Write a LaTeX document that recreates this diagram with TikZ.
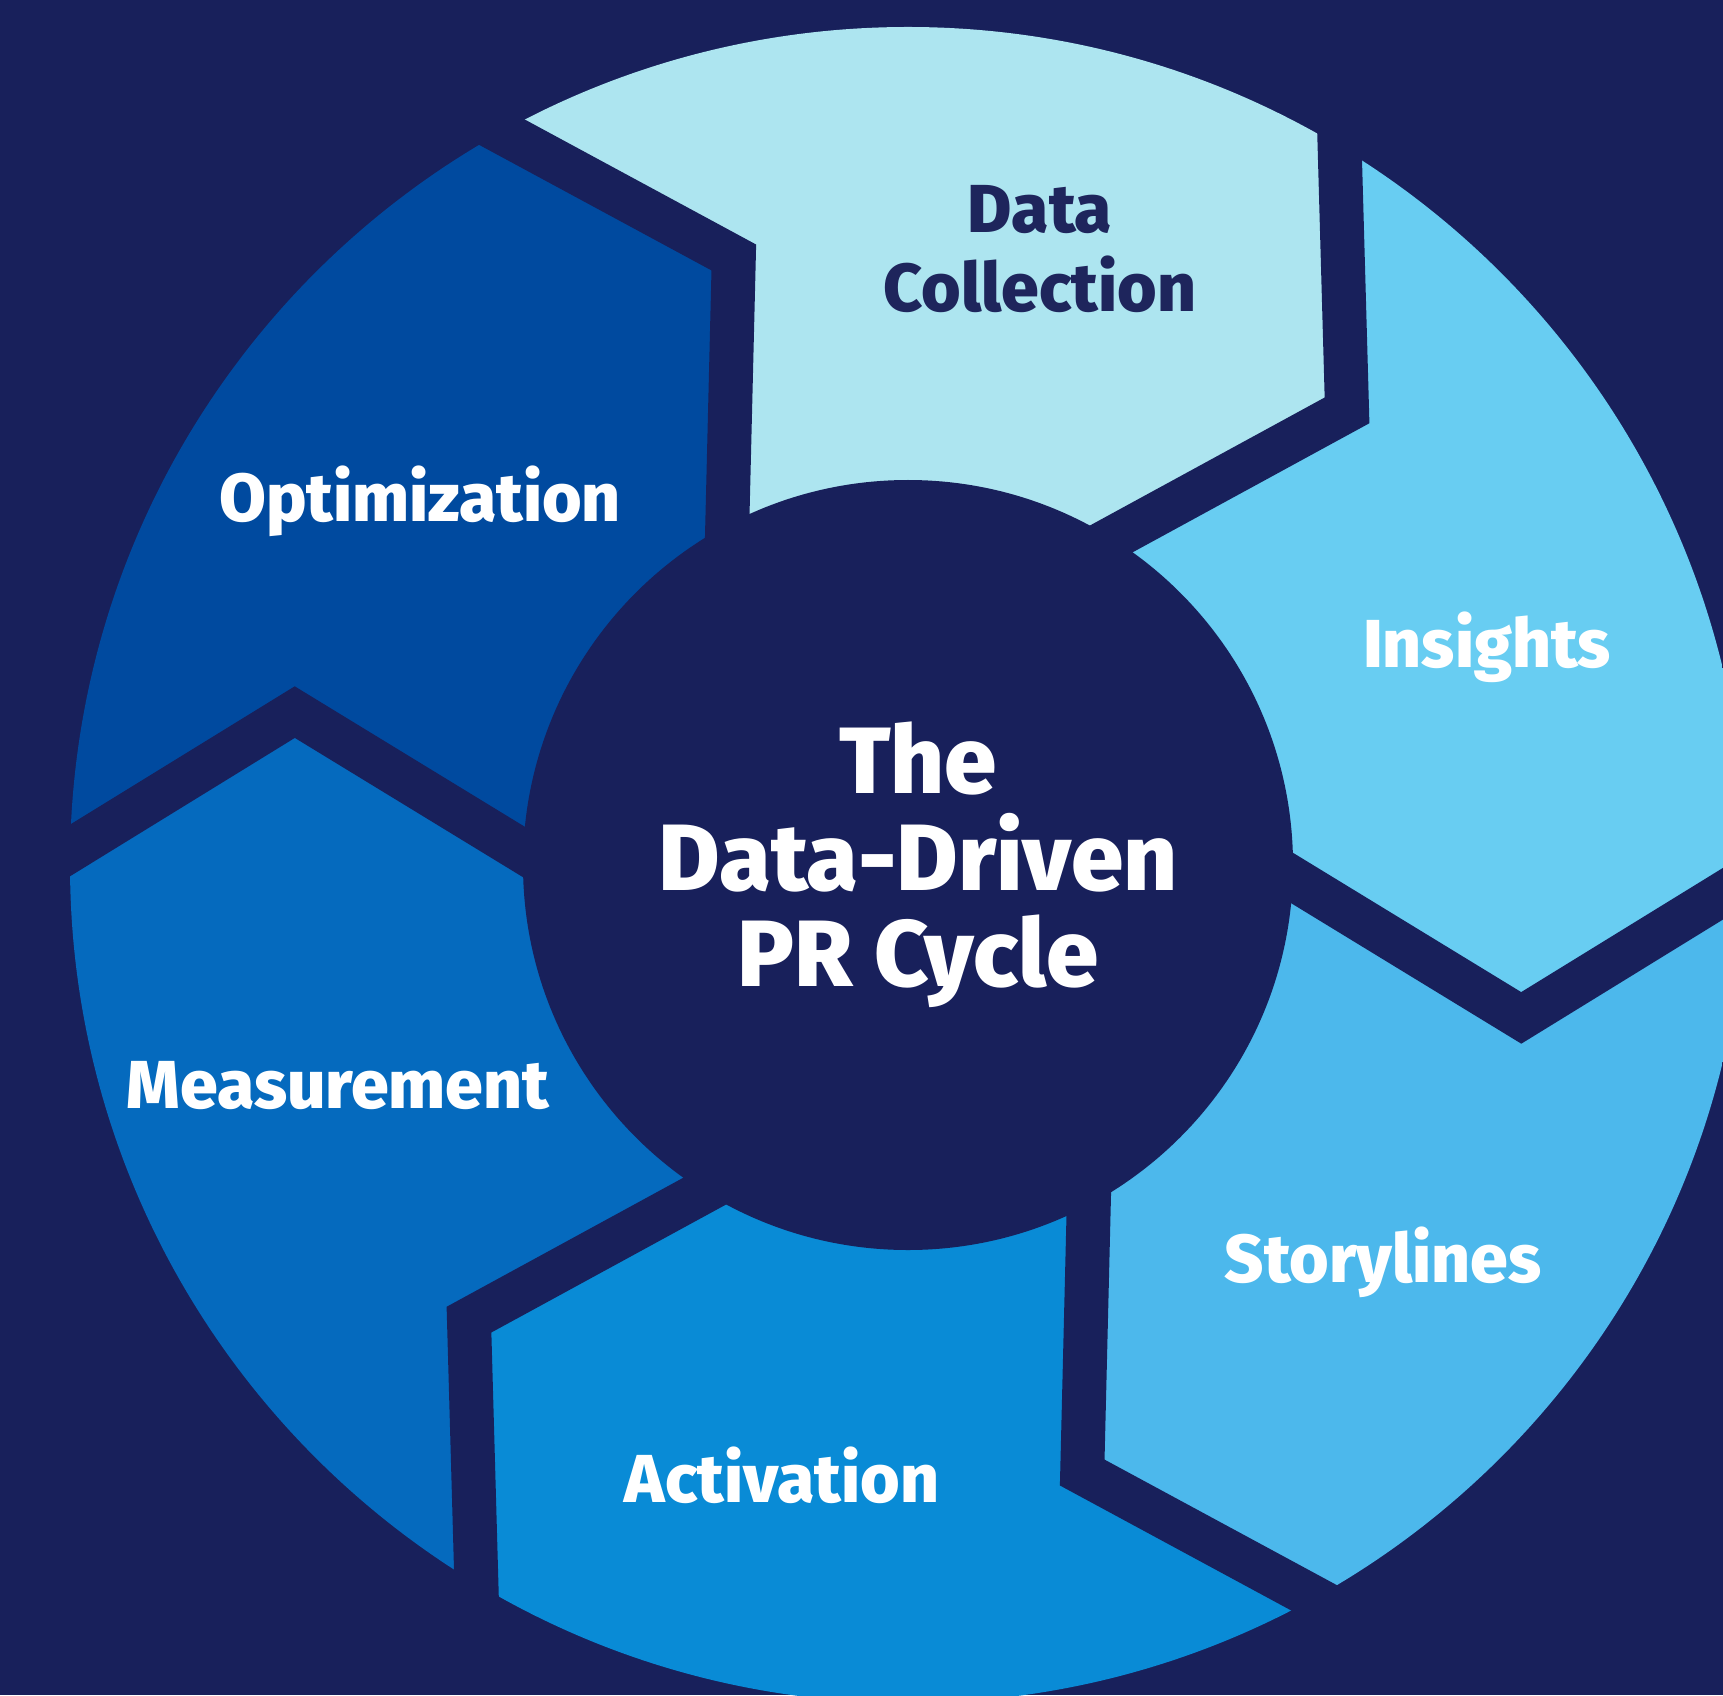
\documentclass[tikz,border=0pt]{standalone}
\usepackage{fontspec}
\setmainfont{Fira Sans}[BoldFont={Fira Sans ExtraBold}]
\usetikzlibrary{calc}
\definecolor{navy}{RGB}{24,32,91}
\definecolor{segOpt}{RGB}{0,74,159}
\definecolor{segData}{RGB}{173,229,240}
\definecolor{segIns}{RGB}{104,205,242}
\definecolor{segStory}{RGB}{76,184,236}
\definecolor{segAct}{RGB}{9,139,214}
\definecolor{segMeas}{RGB}{5,106,190}
\definecolor{darktext}{RGB}{30,37,92}
\begin{document}
\begin{tikzpicture}[x=0.1mm,y=0.1mm,
  steplabel/.style={font=\fontsize{19.3}{24}\selectfont\bfseries, text=white, anchor=base, inner sep=0},
  titletext/.style={font=\fontsize{26.8}{30}\selectfont\bfseries, text=white, anchor=base, inner sep=0},
  gapline/.style={draw=navy, line width=4.4mm, line join=miter}]
\useasboundingbox (0,0) rectangle (1723,1695);
\clip (0,0) rectangle (1723,1695);
\fill[navy] (0,0) rectangle (1723,1695);

\begin{scope}[shift={(908,830)}]
  % chevron boundaries between the six steps: outer end, tip, inner end
  \foreach \k in {0,...,5} {
    \pgfmathsetmacro\a{179-60*\k}
    \coordinate (v\k) at (\a-13:632);
    \coordinate (o\k) at (\a:838);
    \coordinate (i\k) at (\a-1:385);
    \coordinate (oo\k) at ($(v\k)!1.4!(o\k)$);
    \coordinate (ii\k) at ($(v\k)!1.5!(i\k)$);
  }
  % ring segments
  \begin{scope}
    \clip (0,0) circle[radius=838];
    \foreach \k/\c in {0/segOpt,1/segData,2/segIns,3/segStory,4/segAct,5/segMeas} {
      \pgfmathtruncatemacro\n{mod(\k+1,6)}
      \pgfmathsetmacro\m{149-60*\k}
      \fill[\c] (oo\k) -- (v\k) -- (ii\k) -- (0,0) -- (ii\n) -- (v\n) -- (oo\n) -- (\m:1300) -- cycle;
    }
  \end{scope}
  % gaps between segments
  \foreach \k in {0,...,5} {
    \draw[gapline] (oo\k) -- (v\k) -- (ii\k);
  }
  % central disc
  \fill[navy] (0,0) circle[radius=385];
\end{scope}

% step labels
\node[steplabel, text=darktext] (dc1) at (1040,1462) {Data};
\node[steplabel, text=darktext] (dc2) at (1040,1383) {Collection};
\node[steplabel] (ins) at (1487,1028) {Insights};
\node[steplabel] (sto) at (1383,413) {Storylines};
\node[steplabel] (act) at (782,193) {Activation};
\node[steplabel] (mea) at (338,587) {Measurement};
\node[steplabel] (opt) at (420,1173) {Optimization};

% centre title
\node[titletext] (t1) at (918,902) {The};
\node[titletext] (t2) at (918,805) {Data-Driven};
\node[titletext] (t3) at (918,709) {PR Cycle};
\end{tikzpicture}
\end{document}
